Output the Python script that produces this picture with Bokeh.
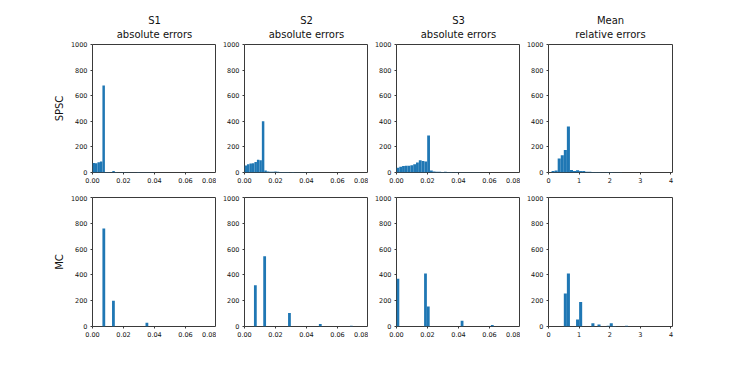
from bokeh.plotting import figure
from bokeh.layouts import column, row
from bokeh.models import FixedTicker, PrintfTickFormatter, Title, Range1d, LinearAxis
from bokeh.embed import file_html
from bokeh.resources import INLINE

FONT = "DejaVu Sans"
BLUE = "#1f77b4"
DARK = "#3a3a3a"

# ---------------- data ----------------
col_titles = ["S1", "S2", "S3", "Mean"]
col_subtitles = ["absolute errors", "absolute errors", "absolute errors", "relative errors"]
row_labels = ["SPSC", "MC"]

abs_ticks = [0.0, 0.02, 0.04, 0.06, 0.08]
rel_ticks = [0, 1, 2, 3, 4]
y_ticks = [0, 200, 400, 600, 800, 1000]

# SPSC histograms (counts per bin, bins starting at 0)
spsc_s1_binw = 0.0016
spsc_s1_counts = [75, 72, 80, 85, 680, 4, 3, 2, 12, 3, 2, 2, 3, 2, 1, 2, 1, 1, 3, 1, 1, 1, 2, 1, 1]

spsc_s2_binw = 0.0016
spsc_s2_counts = [55, 65, 70, 72, 82, 100, 95, 400, 15, 8, 5, 6, 8, 5, 4, 3, 4, 3, 2, 3, 2, 2, 1, 2, 1, 1, 1]

spsc_s3_binw = 0.0018
spsc_s3_counts = [38, 44, 50, 52, 53, 56, 64, 78, 95, 90, 86, 290, 15, 8, 5, 6, 4, 5, 3, 3, 2, 3, 2, 2, 1, 2, 1, 1, 1, 1]

spsc_mean_binw = 0.1
spsc_mean_counts = [0, 12, 15, 110, 135, 175, 360, 20, 12, 18, 12, 12, 5, 6, 4, 4, 3, 2, 2, 3, 3, 2, 1, 1]

# MC histograms (sparse bars: bin left edge, count)
mc_s1_binw = 0.0018
mc_s1_left = [0.0064, 0.0126, 0.0342]
mc_s1_counts = [760, 200, 30]

mc_s2_binw = 0.0018
mc_s2_left = [0.0061, 0.0121, 0.0281, 0.0480, 0.0680]
mc_s2_counts = [320, 545, 105, 20, 5]

mc_s3_binw = 0.0018
mc_s3_left = [0.0000, 0.0178, 0.0196, 0.0414, 0.0609]
mc_s3_counts = [370, 410, 155, 45, 12]

mc_mean_binw = 0.1
mc_mean_left = [0.5, 0.6, 0.9, 1.0, 1.4, 1.6, 1.9, 2.0, 2.1, 2.5]
mc_mean_counts = [255, 410, 55, 190, 25, 15, 5, 25, 3, 5]

# ---------------- layout constants ----------------
FRAME_W = 124
FRAME_H_TOP = 128
FRAME_H_BOT = 129
LEFT0 = 92
GAP = 28
RIGHT_LAST = 12


def make_fig(r, c, lefts, counts, binw):
    is_rel = (c == 3)
    left_b = LEFT0 if c == 0 else GAP
    right_b = RIGHT_LAST if c == 3 else 0
    if r == 0:
        top_b, bot_b, fh = 44, 23, FRAME_H_TOP
    else:
        top_b, bot_b, fh = 2, 25, FRAME_H_BOT
    xr = Range1d(0, 4.05) if is_rel else Range1d(0, 0.08)
    p = figure(width=left_b + FRAME_W + right_b, height=top_b + fh + bot_b,
               x_range=xr, y_range=Range1d(0, 1000),
               output_backend="svg", toolbar_location=None,
               min_border_left=left_b, min_border_right=right_b,
               min_border_top=top_b, min_border_bottom=bot_b)
    p.title.text = ""
    rights = [l + binw for l in lefts]
    p.quad(left=lefts, right=rights, bottom=0, top=counts,
           fill_color=BLUE, line_color=None)

    p.xgrid.visible = False
    p.ygrid.visible = False
    p.outline_line_color = DARK
    p.outline_line_width = 1
    p.background_fill_color = "white"
    p.border_fill_color = "white"

    for ax in (p.xaxis[0], p.yaxis[0]):
        ax.axis_line_color = None
        ax.major_tick_line_color = DARK
        ax.major_tick_out = 2
        ax.major_tick_in = 0
        ax.minor_tick_line_color = None
        ax.major_label_text_font = FONT
        ax.major_label_text_font_size = "6.5px"
        ax.major_label_text_color = "#111111"
        ax.major_label_standoff = 3

    p.yaxis[0].ticker = FixedTicker(ticks=y_ticks)
    if is_rel:
        p.xaxis[0].ticker = FixedTicker(ticks=rel_ticks)
        p.xaxis[0].formatter = PrintfTickFormatter(format="%d")
    else:
        p.xaxis[0].ticker = FixedTicker(ticks=abs_ticks)
        p.xaxis[0].formatter = PrintfTickFormatter(format="%.2f")

    if c == 0:
        ya = p.yaxis[0]
        ya.axis_label = row_labels[r]
        ya.axis_label_text_font = FONT
        ya.axis_label_text_font_size = "10px"
        ya.axis_label_text_font_style = "normal"
        ya.axis_label_text_color = "#111111"
        ya.axis_label_standoff = 3

    if r == 0:
        sub_axis = LinearAxis(ticker=FixedTicker(ticks=[]), axis_label=col_subtitles[c],
                              axis_line_color=None, major_tick_out=0, major_tick_in=0,
                              minor_tick_out=0, minor_tick_in=0,
                              major_label_standoff=0,
                              axis_label_standoff=5,
                              axis_label_text_font=FONT,
                              axis_label_text_font_size="10px",
                              axis_label_text_font_style="normal",
                              axis_label_text_color="#111111")
        p.add_layout(sub_axis, "above")
        p.add_layout(Title(text=col_titles[c], align="center", text_font=FONT,
                           text_font_size="10px", text_font_style="normal",
                           text_color="#111111", standoff=0), "above")
    return p


def edges(binw, counts):
    return [i * binw for i in range(len(counts))]


top_specs = [
    (edges(spsc_s1_binw, spsc_s1_counts), spsc_s1_counts, spsc_s1_binw),
    (edges(spsc_s2_binw, spsc_s2_counts), spsc_s2_counts, spsc_s2_binw),
    (edges(spsc_s3_binw, spsc_s3_counts), spsc_s3_counts, spsc_s3_binw),
    (edges(spsc_mean_binw, spsc_mean_counts), spsc_mean_counts, spsc_mean_binw),
]
bot_specs = [
    (mc_s1_left, mc_s1_counts, mc_s1_binw),
    (mc_s2_left, mc_s2_counts, mc_s2_binw),
    (mc_s3_left, mc_s3_counts, mc_s3_binw),
    (mc_mean_left, mc_mean_counts, mc_mean_binw),
]

top_row = row(*[make_fig(0, c, *top_specs[c]) for c in range(4)])
bot_row = row(*[make_fig(1, c, *bot_specs[c]) for c in range(4)])
layout = column(top_row, bot_row)

open("out.html", "w").write(file_html(layout, INLINE))
